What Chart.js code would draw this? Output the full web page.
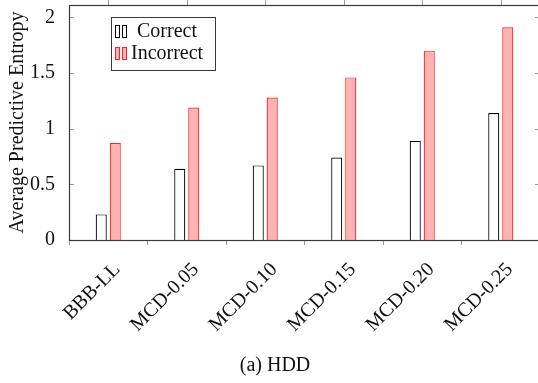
<!DOCTYPE html>
<html lang="en">
<head>
  <meta charset="UTF-8" />
  <title>HDD Predictive Entropy</title>
  <script src="https://cdn.jsdelivr.net/npm/chart.js"></script>
  <style>
    body {
      margin: 0;
      background: white;
      overflow: hidden;
    }
    .wrap {
      position: relative;
      width: 541px;
      height: 383px;
    }
  </style>
</head>
<body>
  <div class="wrap">
    <canvas id="chart"></canvas>
  </div>

  <script>
    const categories = ['BBB-LL', 'MCD-0.05', 'MCD-0.10', 'MCD-0.15', 'MCD-0.20', 'MCD-0.25'];
    const correct = [0.23, 0.64, 0.67, 0.74, 0.89, 1.14];
    const incorrect = [0.87, 1.19, 1.28, 1.46, 1.70, 1.91];
    const yTicks = [0, 0.5, 1, 1.5, 2];

    const FONT = "'Liberation Serif', serif";
    const AXIS = '#3a3a3a';
    const TICK = '#9a9a9a';
    const RED = '#ff2020';
    const PINK = '#ffb3b3';

    // frame, inward y ticks, top x ticks, legend box and caption
    const decorations = {
      id: 'decorations',
      afterDraw(chart) {
        const { ctx, chartArea: a, scales } = chart;
        ctx.save();

        ctx.strokeStyle = TICK;
        ctx.lineWidth = 1;
        yTicks.forEach(v => {
          const y = Math.round(scales.y.getPixelForValue(v)) + 0.5;
          ctx.beginPath();
          ctx.moveTo(a.left, y); ctx.lineTo(a.left + 5, y);
          ctx.moveTo(a.right - 5, y); ctx.lineTo(a.right, y);
          ctx.stroke();
        });
        categories.forEach((c, i) => {
          const x = Math.round(scales.x.getPixelForValue(i)) + 0.5;
          ctx.beginPath();
          ctx.moveTo(x, a.top); ctx.lineTo(x, a.top - 5);
          ctx.stroke();
        });

        ctx.strokeStyle = AXIS;
        ctx.lineWidth = 1.2;
        ctx.strokeRect(a.left + 0.5, a.top + 0.5, a.right - a.left, a.bottom - a.top);

        // legend
        const lx = 111, ly = 17;
        ctx.fillStyle = 'white';
        ctx.fillRect(lx, ly, 104, 53);
        ctx.strokeStyle = AXIS;
        ctx.lineWidth = 1;
        ctx.strokeRect(lx + 0.5, ly + 0.5, 104, 53);

        const icon = (y, fill, stroke) => {
          [115, 122].forEach(x => {
            ctx.fillStyle = fill;
            ctx.fillRect(x + 0.5, y + 0.5, 4, 12);
            ctx.strokeStyle = stroke;
            ctx.strokeRect(x + 0.5, y + 0.5, 4, 12);
          });
        };
        icon(25, 'white', '#000');
        icon(47, PINK, RED);

        ctx.fillStyle = '#111';
        ctx.font = '20px ' + FONT;
        ctx.textBaseline = 'middle';
        ctx.textAlign = 'left';
        ctx.fillText('Correct', 137, 32);
        ctx.fillText('Incorrect', 131, 54);

        // caption
        ctx.textAlign = 'center';
        ctx.fillText('(a) HDD', 275, 366);
        ctx.restore();
      }
    };

    new Chart(document.getElementById('chart'), {
      type: 'bar',
      data: {
        labels: categories,
        datasets: [
          {
            label: 'Correct',
            data: correct,
            backgroundColor: 'white',
            borderColor: '#000',
            borderWidth: 1.2,
            barPercentage: 0.79,
            categoryPercentage: 0.357
          },
          {
            label: 'Incorrect',
            data: incorrect,
            backgroundColor: PINK,
            borderColor: RED,
            borderWidth: 1.2,
            barPercentage: 0.79,
            categoryPercentage: 0.357
          }
        ]
      },
      options: {
        responsive: true,
        maintainAspectRatio: false,
        animation: false,
        layout: { padding: { left: 0, right: 1, top: 5, bottom: 0 } },
        plugins: {
          legend: { display: false },
          tooltip: { enabled: false }
        },
        scales: {
          x: {
            grid: {
              drawOnChartArea: false,
              tickLength: 5,
              color: TICK
            },
            border: { display: false },
            ticks: {
              color: '#111',
              font: { family: FONT, size: 20 },
              minRotation: 45,
              maxRotation: 45,
              padding: 13,
              labelOffset: 9
            },
            afterFit: s => { s.height = 143; s.paddingLeft = 0; s.paddingRight = 0; }
          },
          y: {
            min: 0,
            max: 2.11,
            afterBuildTicks: s => { s.ticks = yTicks.map(v => ({ value: v })); },
            grid: { display: false },
            border: { display: false },
            ticks: {
              color: '#111',
              font: { family: FONT, size: 20 },
              padding: 6,
              callback: v => String(v)
            },
            title: {
              display: true,
              text: 'Average Predictive Entropy',
              color: '#111',
              font: { family: FONT, size: 20 },
              padding: { top: 6, bottom: 0 }
            },
            afterFit: s => { s.width = 69; s.paddingTop = 0; s.paddingBottom = 0; }
          }
        }
      },
      plugins: [decorations]
    });
  </script>
</body>
</html>
